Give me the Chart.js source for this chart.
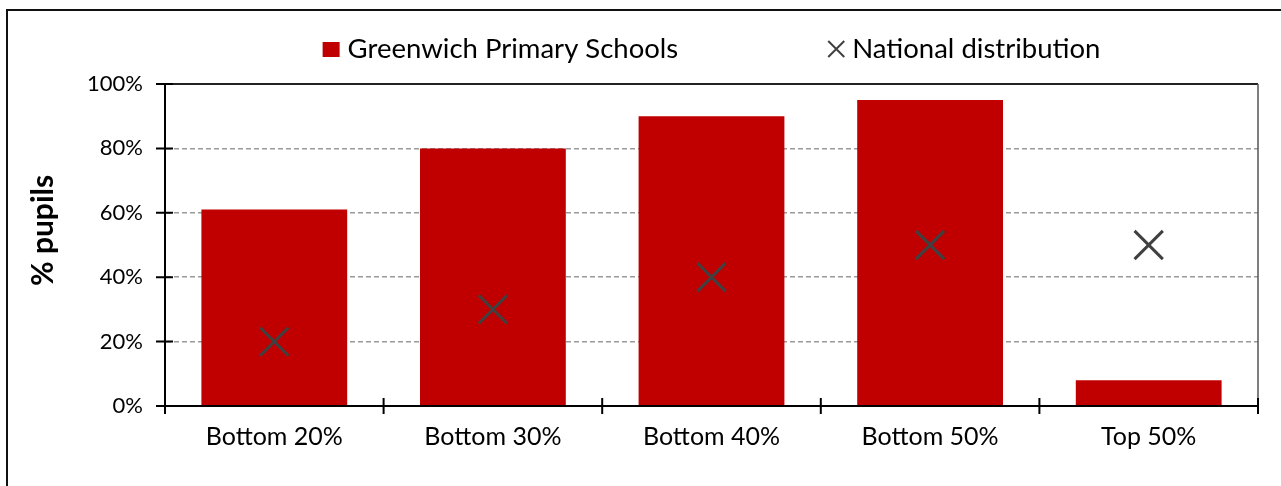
<!DOCTYPE html>
<html>
<head>
<meta charset="utf-8">
<title>Greenwich Primary Schools</title>
<script src="https://cdn.jsdelivr.net/npm/chart.js@4.4.1/dist/chart.umd.min.js"></script>
<style>
  html, body { margin: 0; padding: 0; background: #fff; }
  .wrap { position: relative; width: 1281px; height: 486px; overflow: hidden; }
  .frame {
    position: absolute; left: 6px; top: 9px; width: 1400px; height: 600px;
    border-left: 2px solid #111; border-top: 2px solid #111;
  }
  #gap-chart { position: absolute; left: 0; top: 0; }
</style>
</head>
<body>
<div class="wrap">
  <div class="frame"></div>
  <canvas id="gap-chart" width="1281" height="486"></canvas>
</div>
<script>
// 구간별 학생 비율
const categories = ["Bottom 20%", "Bottom 30%", "Bottom 40%", "Bottom 50%", "Top 50%"];
const greenwichValues = [61, 80, 90, 95, 8];
const nationalValues = [20, 30, 40, 50, 50];
const yTickValues = [0, 20, 40, 60, 80, 100];
const seriesNames = ["Greenwich Primary Schools", "National distribution"];

const FONT = "Lato, 'Open Sans', sans-serif";
const BAR_RED = "#c00000";
const MARK_GREY = "#404040";

// 범례 (차트 위 가운데)
const topLegend = {
  id: "topLegend",
  afterDraw(chart) {
    const ctx = chart.ctx;
    const area = chart.chartArea;
    ctx.save();
    ctx.font = "27.5px " + FONT;
    ctx.textBaseline = "middle";
    const w1 = ctx.measureText(seriesNames[0]).width;
    const w2 = ctx.measureText(seriesNames[1]).width;
    const boxW = 17, markW = 16, gap = 8, spacing = 150;
    const total = boxW + gap + w1 + spacing + markW + gap + w2;
    let x = (area.left + area.right) / 2 - total / 2;
    const y = 49;

    ctx.fillStyle = BAR_RED;
    ctx.fillRect(x, y - 7, boxW, 15);
    x += boxW + gap;
    ctx.fillStyle = "#000";
    ctx.fillText(seriesNames[0], x, y);
    x += w1 + spacing;

    ctx.strokeStyle = MARK_GREY;
    ctx.lineWidth = 2;
    ctx.beginPath();
    ctx.moveTo(x, y - 8); ctx.lineTo(x + markW, y + 8);
    ctx.moveTo(x + markW, y - 8); ctx.lineTo(x, y + 8);
    ctx.stroke();
    x += markW + gap;
    ctx.fillText(seriesNames[1], x, y);
    ctx.restore();
  }
};

// 플롯 테두리 + 축 눈금 (축선을 가로지르는 짧은 선)
const plotFrame = {
  id: "plotFrame",
  afterDatasetsDraw(chart) {
    const ctx = chart.ctx;
    const a = chart.chartArea;
    const yScale = chart.scales.y;
    ctx.save();
    // 위, 오른쪽 테두리
    ctx.strokeStyle = "#222";
    ctx.lineWidth = 2;
    ctx.beginPath();
    ctx.moveTo(a.left, a.top); ctx.lineTo(a.right, a.top);
    ctx.stroke();
    ctx.strokeStyle = "#555";
    ctx.lineWidth = 1.5;
    ctx.beginPath();
    ctx.moveTo(a.right, a.top); ctx.lineTo(a.right, a.bottom);
    ctx.stroke();

    ctx.strokeStyle = "#000";
    ctx.lineWidth = 2;
    ctx.beginPath();
    yScale.ticks.forEach(function (t) {
      const py = yScale.getPixelForValue(t.value);
      ctx.moveTo(a.left - 9, py); ctx.lineTo(a.left + 8, py);
    });
    const step = (a.right - a.left) / categories.length;
    for (let i = 0; i <= categories.length; i++) {
      const px = a.left + i * step;
      ctx.moveTo(px, a.bottom - 8); ctx.lineTo(px, a.bottom + 8);
    }
    ctx.stroke();
    ctx.restore();
  }
};

new Chart(document.getElementById("gap-chart"), {
  type: "bar",
  data: {
    labels: categories,
    datasets: [
      {
        type: "line",
        label: seriesNames[1],
        data: nationalValues,
        showLine: false,
        pointStyle: "crossRot",
        pointRadius: 20,
        pointHoverRadius: 20,
        pointBorderWidth: 3,
        pointBorderColor: MARK_GREY,
        pointBackgroundColor: MARK_GREY,
        order: 0,
      },
      {
        label: seriesNames[0],
        data: greenwichValues,
        backgroundColor: BAR_RED,
        categoryPercentage: 1,
        barPercentage: 0.667,
        order: 1,
      },
    ],
  },
  options: {
    responsive: false,
    animation: false,
    devicePixelRatio: 1,
    layout: { padding: { top: 84, right: 21, left: 0, bottom: 30 } },
    plugins: {
      legend: { display: false },
      tooltip: { enabled: false },
    },
    scales: {
      x: {
        grid: { display: false, drawTicks: false },
        border: { display: true, color: "#000", width: 2, z: 1 },
        ticks: { color: "#000", font: { family: FONT, size: 25 }, padding: 16, maxRotation: 0 },
        afterFit(scale) { scale.height = 50; },
      },
      y: {
        min: 0,
        max: 100,
        afterBuildTicks(scale) {
          scale.ticks = yTickValues.map(function (v) { return { value: v }; });
        },
        grid: {
          drawTicks: false,
          lineWidth: 1.5,
          color(c) {
            return c.tick && c.tick.value > 0 && c.tick.value < 100 ? "#9a9a9a" : "rgba(0,0,0,0)";
          },
        },
        border: { display: true, color: "#000", width: 2, z: 1, dash: [5, 3] },
        ticks: {
          color: "#000",
          font: { family: FONT, size: 22 },
          padding: 22,
          callback(v) { return v + "%"; },
        },
        title: {
          display: true,
          // 앞쪽 공백으로 제목을 조금 위로 올림
          text: "    % pupils",
          color: "#000",
          font: { family: FONT, size: 30, weight: "bold" },
          padding: { top: 25, bottom: 0 },
        },
        afterFit(scale) { scale.width = 165; },
      },
    },
  },
  plugins: [plotFrame, topLegend],
});
</script>
</body>
</html>
